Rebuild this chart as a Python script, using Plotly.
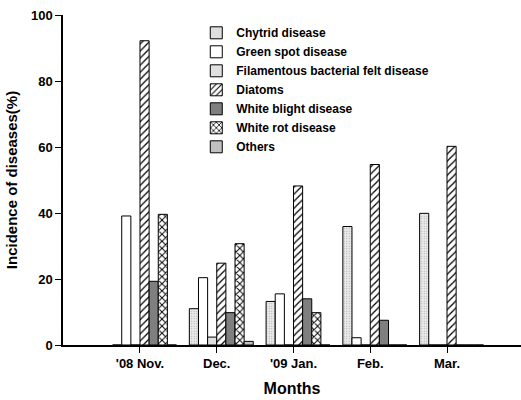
import plotly.graph_objects as go

months = ["'08 Nov.", "Dec.", "'09 Jan.", "Feb.", "Mar."]
y_ticks = [0, 20, 40, 60, 80, 100]

chytrid = [0, 11.0, 13.2, 35.9, 39.9]
green_spot = [39.1, 20.4, 15.5, 2.2, 0]
filamentous = [0, 2.4, 0, 0, 0]
diatoms = [92.2, 24.8, 48.2, 54.7, 60.2]
white_blight = [19.3, 9.8, 14.0, 7.5, 0]
white_rot = [39.6, 30.7, 9.8, 0, 0]
others = [0, 1.1, 0, 0, 0]

series = [
    ("Chytrid disease", chytrid, dict(color="#e8e8e8", pattern=dict(shape=".", fgcolor="#a8a8a8", bgcolor="#ebebeb", size=2.5, solidity=0.2, fgopacity=1))),
    ("Green spot disease", green_spot, dict(color="white")),
    ("Filamentous bacterial felt disease", filamentous, dict(color="#e0e0e0")),
    ("Diatoms", diatoms, dict(color="white", pattern=dict(shape="/", fgcolor="black", bgcolor="white", size=5, solidity=0.25, fgopacity=1))),
    ("White blight disease", white_blight, dict(color="#7f7f7f")),
    ("White rot disease", white_rot, dict(color="white", pattern=dict(shape="x", fgcolor="black", bgcolor="white", size=5, solidity=0.35, fgopacity=1))),
    ("Others", others, dict(color="#c0c0c0")),
]

x = list(range(len(months)))
bar_w = 0.119

BOLD = dict(family="Arial, Liberation Sans, sans-serif", color="black", weight="bold")

fig = go.Figure()
for i, (name, vals, marker) in enumerate(series):
    marker = dict(marker)
    marker["line"] = dict(color="black", width=1)
    fig.add_trace(go.Bar(
        name=name, x=x, y=vals, width=bar_w, offset=(i - 3) * bar_w,
        marker=marker,
    ))

fig.update_layout(
    width=521, height=400,
    margin=dict(l=63, r=0, t=15, b=55),
    barmode="overlay",
    plot_bgcolor="white", paper_bgcolor="white",
    font=dict(family="Arial, Liberation Sans, sans-serif", color="black"),
    showlegend=True,
    legend=dict(
        x=0.291, y=0.99, xanchor="left", yanchor="top",
        bgcolor="rgba(0,0,0,0)",
        font=dict(size=12, **BOLD),
        tracegroupgap=0, itemwidth=30,
    ),
)

fig.update_xaxes(
    range=[-1.003, 4.964],
    tickvals=x, ticktext=months,
    ticks="outside", ticklen=6, tickwidth=1, tickcolor="black",
    showline=True, linecolor="black", linewidth=1.5,
    showgrid=False, zeroline=False,
    tickfont=dict(size=13, **BOLD),
    title=dict(text="Months", font=dict(size=16, **BOLD), standoff=12),
)

fig.update_yaxes(
    range=[0, 100],
    tickvals=y_ticks,
    ticks="outside", ticklen=6, tickwidth=1, tickcolor="black",
    showline=True, linecolor="black", linewidth=1.5,
    showgrid=False, zeroline=False,
    tickfont=dict(size=13, **BOLD),
    title=dict(text="Incidence of diseases(%)", font=dict(size=15, **BOLD), standoff=10),
)

fig.write_html("out.html")
